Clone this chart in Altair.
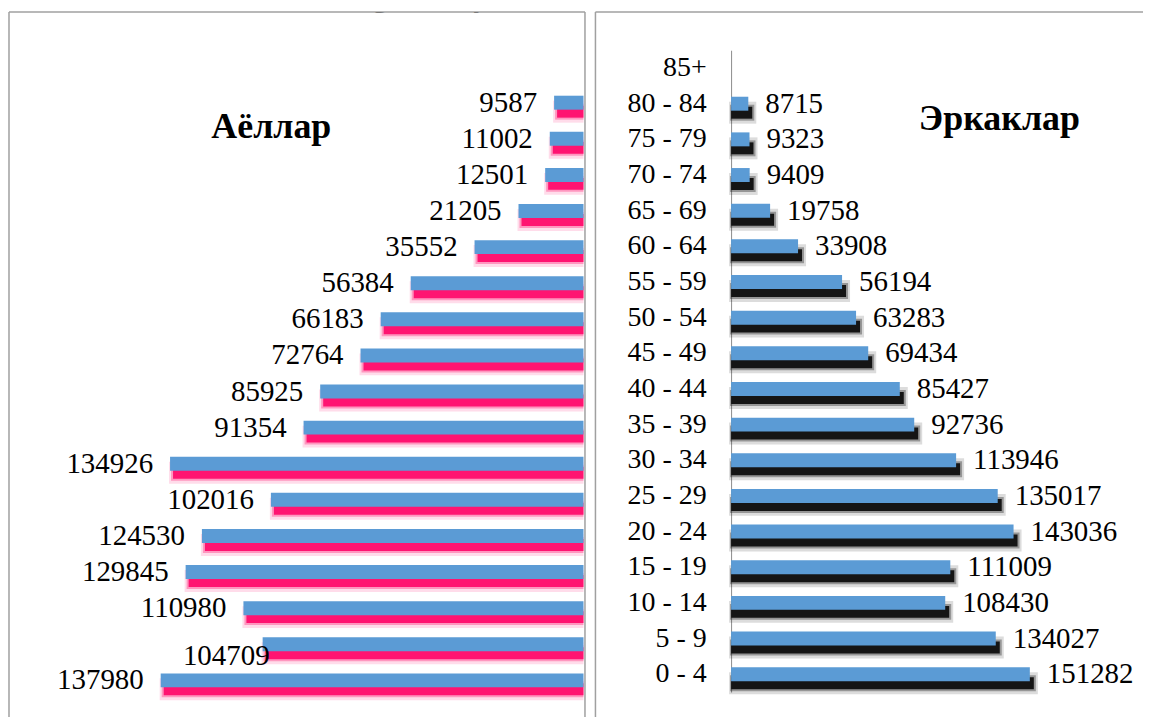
import altair as alt
import pandas as pd

# ---- data ----
ages = ["0 - 4", "5 - 9", "10 - 14", "15 - 19", "20 - 24", "25 - 29", "30 - 34",
        "35 - 39", "40 - 44", "45 - 49", "50 - 54", "55 - 59", "60 - 64",
        "65 - 69", "70 - 74", "75 - 79", "80 - 84", "85+"]
female = [137980, 104709, 110980, 129845, 124530, 102016, 134926, 91354, 85925,
          72764, 66183, 56384, 35552, 21205, 12501, 11002, 9587]
male = [151282, 134027, 108430, 111009, 143036, 135017, 113946, 92736, 85427,
        69434, 63283, 56194, 33908, 19758, 9409, 9323, 8715]
title_text = "Namangan viloyati aholisi yosh-jins piramidasi (2019 y)"
left_title = "Аёллар"
right_title = "Эркаклар"

order = list(reversed(ages))
df_f = pd.DataFrame({"age": ages[:len(female)], "v": female})
df_m = pd.DataFrame({"age": ages[:len(male)], "v": male})
one = pd.DataFrame({"k": [0]})

FONT = "Liberation Serif"
BLUE = "#5B9BD5"
PINK = "#FF1471"
DARK = "#151515"
BORDER = "#A0A0A0"
LW, RW, H = 578, 549, 707
FS = 29

# ---------------- left panel (women) ----------------
yL = alt.Y("age:N", scale=alt.Scale(domain=order, range=[36.7, 688.3]), axis=None)
xL = alt.X("v:Q", scale=alt.Scale(domain=[0, 140000], range=[576, 145.9]), axis=None)
bL = alt.Chart(df_f).encode(y=yL, x=xL, x2=alt.datum(0))

left_layers = [
    bL.mark_bar(color=PINK, opacity=0.15, size=22, yOffset=9, xOffset=-1),
    bL.mark_bar(color=PINK, opacity=0.35, size=16, yOffset=9, xOffset=1),
    bL.mark_bar(color=PINK, size=12, yOffset=9, xOffset=3),
    bL.mark_bar(color=BLUE, size=14),
    alt.Chart(df_f).transform_filter(alt.datum.age != "5 - 9").mark_text(
        font=FONT, fontSize=FS, align="right", baseline="middle", dx=-17, color="black"
    ).encode(y=yL, x=xL, text=alt.Text("v:Q", format="d")),
    alt.Chart(df_f).transform_filter(alt.datum.age == "5 - 9").mark_text(
        font=FONT, fontSize=FS, align="right", baseline="middle", dx=7, dy=12, color="black"
    ).encode(y=yL, x=xL, text=alt.Text("v:Q", format="d")),
    alt.Chart(one).mark_text(text=left_title, font=FONT, fontSize=36, fontWeight="bold",
                             align="center", baseline="middle", color="black"
    ).encode(x=alt.value(263), y=alt.value(115)),
    alt.Chart(one).mark_text(text=title_text, font=FONT, fontSize=30, fontWeight="bold",
                             align="center", baseline="bottom", color="black", clip=True
    ).encode(x=alt.value(627), y=alt.value(1)),
    alt.Chart(one).mark_rule(color=BORDER, strokeWidth=1.5).encode(
        x=alt.value(0), x2=alt.value(LW - 0.5), y=alt.value(0)),
    alt.Chart(one).mark_rule(color=BORDER, strokeWidth=1.5).encode(
        x=alt.value(0), y=alt.value(0), y2=alt.value(H)),
    alt.Chart(one).mark_rule(color=BORDER, strokeWidth=1.5).encode(
        x=alt.value(LW - 0.5), y=alt.value(0), y2=alt.value(H)),
]
left = alt.layer(*left_layers).properties(width=LW, height=H)

# ---------------- right panel (men) ----------------
yR = alt.Y("age:N", scale=alt.Scale(domain=order, range=[38.4, 681.9]),
           axis=alt.Axis(title=None, orient="left", offset=-136, ticks=False,
                         labelPadding=25, labelFont=FONT, labelFontSize=FS - 1,
                         labelColor="black", domainColor="#8C8C8C", domainWidth=1,
                         grid=False, labelAlign="right"))
xR = alt.X("v:Q", scale=alt.Scale(domain=[0, 150000], range=[136, 433]), axis=None)
bR = alt.Chart(df_m).encode(y=yR, x=xR, x2=alt.datum(0))

right_layers = [
    bR.mark_bar(color=DARK, opacity=0.15, size=22, yOffset=9, xOffset=8, x2Offset=-2),
    bR.mark_bar(color=DARK, opacity=0.35, size=16, yOffset=9, xOffset=6, x2Offset=-1),
    bR.mark_bar(color=DARK, size=12, yOffset=9, xOffset=4),
    bR.mark_bar(color=BLUE, size=14),
    alt.Chart(df_m).mark_text(
        font=FONT, fontSize=FS, align="left", baseline="middle", dx=17, color="black"
    ).encode(y=yR, x=xR, text=alt.Text("v:Q", format="d")),
    alt.Chart(one).mark_text(text=right_title, font=FONT, fontSize=36, fontWeight="bold",
                             align="center", baseline="middle", color="black"
    ).encode(x=alt.value(405), y=alt.value(107)),
    alt.Chart(one).mark_rule(color=BORDER, strokeWidth=1.5).encode(
        x=alt.value(0), x2=alt.value(RW), y=alt.value(0)),
    alt.Chart(one).mark_rule(color=BORDER, strokeWidth=1.5).encode(
        x=alt.value(0), y=alt.value(0), y2=alt.value(H)),
]
right = alt.layer(*right_layers).properties(width=RW, height=H)

chart = alt.hconcat(left, right, spacing=8).properties(
    padding={"left": 0, "top": 2, "right": 0, "bottom": 0}
).configure_view(stroke=None)

chart.save("out.html", embed_options={"renderer": "svg", "actions": False})
